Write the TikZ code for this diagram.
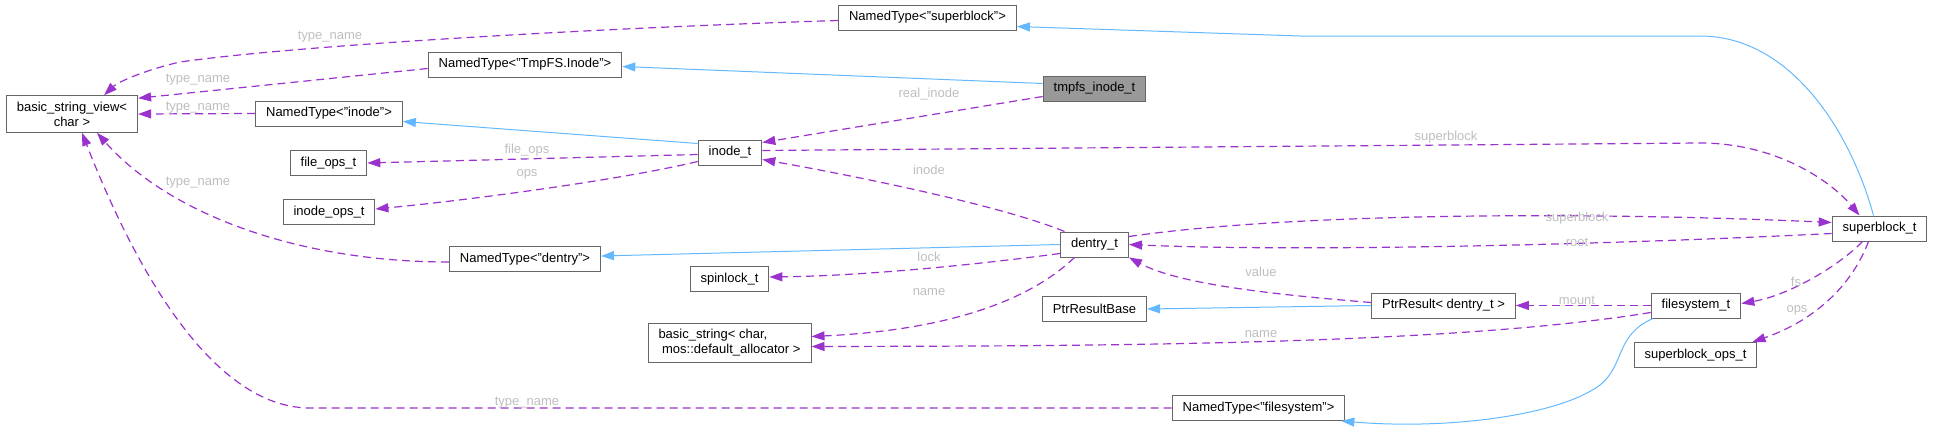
\documentclass[tikz,border=0pt]{standalone}
\usepackage{fontspec}
\setmainfont{Liberation Sans}
\usetikzlibrary{arrows.meta,shapes}
\definecolor{usecol}{HTML}{9A32CD}
\definecolor{inhcol}{HTML}{63B8FF}
\definecolor{lblcol}{HTML}{BEBEBE}
\definecolor{boxgray}{HTML}{666666}
\definecolor{focusgray}{HTML}{999999}
\tikzstyle{cls}=[rectangle,draw=boxgray,fill=white,line width=1pt,inner xsep=10.5pt,inner ysep=6pt,minimum height=25pt,font=\fontsize{13}{15}\selectfont,align=center]
\tikzstyle{clsfocus}=[cls,fill=focusgray]
\tikzstyle{uses}=[-{Triangle[length=13pt,width=9pt]},draw=usecol,line width=1.2pt,dash pattern=on 8pt off 5pt]
\tikzstyle{inherits}=[-{Triangle[length=13pt,width=9pt]},draw=inhcol,line width=1pt]
\tikzstyle{elabel}=[text=lblcol,font=\fontsize{13}{15}\selectfont,inner sep=0pt]

\begin{document}
\begin{tikzpicture}[x=1pt,y=-1pt]
\useasboundingbox (0,0) rectangle (1933,431);
\node[cls] (bsv) at (72,114) {basic\_string\_view<\\char >};
\node[cls] (ntSuper) at (927.5,17.5) {NamedType<"superblock">};
\node[cls] (ntTmpfs) at (525,64.5) {NamedType<"TmpFS.Inode">};
\node[cls] (ntInode) at (329,113.5) {NamedType<"inode">};
\node[cls] (fileops) at (328.5,163) {file\_ops\_t};
\node[cls] (inodeops) at (329,212) {inode\_ops\_t};
\node[cls] (ntDentry) at (525,259) {NamedType<"dentry">};
\node[clsfocus] (tmpfs) at (1094.5,88.5) {tmpfs\_inode\_t};
\node[cls] (inode) at (730,152.5) {inode\_t};
\node[cls] (dentry) at (1094.5,244.5) {dentry\_t};
\node[cls] (spinlock) at (729.5,279) {spinlock\_t};
\node[cls,align=left] (bstr) at (729.5,342.5) {basic\_string< char,\\\hspace*{3.6pt}mos::default\_allocator >};
\node[cls] (ptrbase) at (1094.5,309) {PtrResultBase};
\node[cls] (ptr) at (1443.5,305.5) {PtrResult< dentry\_t >};
\node[cls] (fs) at (1696,305.5) {filesystem\_t};
\node[cls] (sbops) at (1695.5,355) {superblock\_ops\_t};
\node[cls] (sb) at (1879.5,228.5) {superblock\_t};
\node[cls] (ntFs) at (1258.5,408) {NamedType<"filesystem">};

\draw[inherits] ([yshift=5pt]tmpfs.west) -- ([yshift=-2pt]ntTmpfs.east);
\draw[inherits] ([xshift=-6pt]sb.north) .. controls (1850,130) and (1790,36) .. (1700,36) -- (1300,36) -- ([yshift=-9pt]ntSuper.east);
\draw[inherits] ([yshift=9pt]inode.west) -- ([yshift=-8pt]ntInode.east);
\draw[inherits] (dentry.west) -- ([yshift=3pt]ntDentry.east);\draw[inherits] (ptr.west) -- (ptrbase.east);
\draw[inherits] ([xshift=-43pt]fs.south) .. controls (1615,335) and (1625,365) .. (1600,385) .. controls (1560,415) and (1450,430) .. ([xshift=-4pt]ntFs.south east);

\draw[uses] ([yshift=-3pt]ntSuper.west) .. controls (600,28) and (300,45) .. (180,62) .. controls (145,70) and (118,82) .. ([xshift=32pt]bsv.north);
\draw[uses] ([yshift=-4pt]ntTmpfs.west) -- ([yshift=-3pt]bsv.north east);\draw[uses] (ntInode.west) -- (bsv.east);
\draw[uses] ([yshift=-3pt]ntDentry.west) .. controls (300,262) and (170,215) .. ([xshift=25pt]bsv.south);
\draw[uses] (ntFs.west) -- (310,408) .. controls (200,408) and (120,230) .. ([xshift=10pt]bsv.south);
\draw[uses] ([yshift=-8pt]tmpfs.west) -- ([yshift=10pt]inode.east);\draw[uses] ([yshift=-2pt]inode.west) -- (fileops.east);
\draw[uses] ([yshift=-9pt]inode.west) .. controls (620,180) and (470,200) .. ([yshift=3pt]inodeops.east);
\draw[uses] ([yshift=2pt]inode.east) -- (1700,143) .. controls (1775,143) and (1830,180) .. ([xshift=-20pt]sb.north);
\draw[uses] ([xshift=-30pt]dentry.north) .. controls (1000,205) and (850,175) .. ([yshift=-7pt]inode.east);
\draw[uses] ([yshift=8pt]dentry.east) .. controls (1300,212) and (1600,212) .. ([yshift=6pt]sb.west);
\draw[uses] ([yshift=-5pt]sb.west) .. controls (1600,245) and (1300,252) .. (dentry.east);
\draw[uses] ([yshift=-9pt]dentry.west) .. controls (950,268) and (850,276) .. ([yshift=2pt]spinlock.east);
\draw[uses] ([xshift=-20pt]dentry.south) .. controls (1030,300) and (950,330) .. ([yshift=6pt]bstr.east);
\draw[uses] ([yshift=3pt]ptr.west) .. controls (1280,295) and (1180,285) .. (dentry.south east);\draw[uses] (fs.west) -- (ptr.east);
\draw[uses] ([yshift=-7pt]fs.west) .. controls (1450,345) and (1100,346) .. ([yshift=-4pt]bstr.east);
\draw[uses] ([xshift=-17pt]sb.south) .. controls (1840,265) and (1790,295) .. ([yshift=2pt]fs.east);
\draw[uses] ([xshift=-11pt]sb.south) .. controls (1850,290) and (1810,322) .. ([xshift=57pt]sbops.north);

\node[elabel] (lbSuper) at (330,37) {type\_name};
\node[elabel] (lbTmpfs) at (198,80) {type\_name};
\node[elabel] (lbInode) at (198,108) {type\_name};
\node[elabel] (lbDentry) at (198,183) {type\_name};
\node[elabel] (lbFs) at (527,403) {type\_name};
\node[elabel] (lbReal) at (929,94) {real\_inode};
\node[elabel] (lbFileops) at (527,150) {file\_ops};
\node[elabel] (lbOps) at (527,174) {ops};
\node[elabel] (lbSbInode) at (1446,137) {superblock};
\node[elabel] (lbInodeD) at (929,170) {inode};
\node[elabel] (lbSbDentry) at (1577,218) {superblock};
\node[elabel] (lbRoot) at (1577,242) {root};
\node[elabel] (lbLock) at (929,257) {lock};
\node[elabel] (lbNameD) at (929,292) {name};
\node[elabel] (lbValue) at (1261,272) {value};
\node[elabel] (lbMount) at (1577,300) {mount};
\node[elabel] (lbNameF) at (1261,334) {name};
\node[elabel] (lbFsSb) at (1796,282) {fs};
\node[elabel] (lbOpsSb) at (1797,310) {ops};
\end{tikzpicture}
\end{document}
